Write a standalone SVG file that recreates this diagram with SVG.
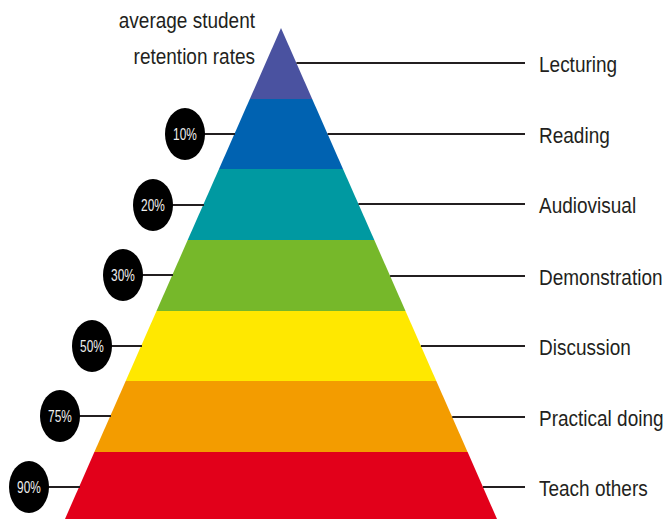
<svg xmlns="http://www.w3.org/2000/svg" width="667" height="519" viewBox="0 0 667 519">
<style>
.lbl{font-family:"Liberation Sans",Arial,sans-serif;font-size:19px;fill:#231f20}
.pct{font-family:"Liberation Sans",Arial,sans-serif;font-size:13.5px;fill:#eeeeee;text-anchor:middle}
.ln{stroke:#231f20;stroke-width:2;fill:none}
.dot{fill:#000}
</style>
<rect width="667" height="519" fill="#fff"/>
<g id="pyramid">
<polygon id="band-lecturing" points="281,28 312.2,99 249.8,99" fill="#4a52a0"/>
<polygon id="band-reading" points="249.8,99 312.2,99 343,169 219,169" fill="#0062b1"/>
<polygon id="band-audiovisual" points="219,169 343,169 374.3,240 187.7,240" fill="#0099a1"/>
<polygon id="band-demonstration" points="187.7,240 374.3,240 405.5,311 156.5,311" fill="#76b82a"/>
<polygon id="band-discussion" points="156.5,311 405.5,311 436.3,381 125.7,381" fill="#ffe800"/>
<polygon id="band-practical" points="125.7,381 436.3,381 467.6,452 94.4,452" fill="#f39c00"/>
<polygon id="band-teach" points="94.4,452 467.6,452 497,519 65,519" fill="#e2001a"/>
</g>
<g id="connectors">
<line class="ln" x1="296.4" y1="63" x2="525" y2="63"/>
<line class="ln" x1="327.6" y1="134" x2="525" y2="134"/>
<line class="ln" x1="358.4" y1="204" x2="525" y2="204"/>
<line class="ln" x1="390.1" y1="276" x2="525" y2="276"/>
<line class="ln" x1="420.9" y1="346" x2="525" y2="346"/>
<line class="ln" x1="452.2" y1="417" x2="525" y2="417"/>
<line class="ln" x1="483" y1="487" x2="525" y2="487"/>
<line class="ln" x1="204" y1="134" x2="235" y2="134"/>
<line class="ln" x1="172" y1="205" x2="204" y2="205"/>
<line class="ln" x1="142" y1="275" x2="173" y2="275"/>
<line class="ln" x1="111" y1="346" x2="142" y2="346"/>
<line class="ln" x1="79" y1="416" x2="111" y2="416"/>
<line class="ln" x1="48" y1="487" x2="80" y2="487"/>
</g>
<g id="title">
<text class="lbl" text-anchor="end" transform="matrix(1,0,0,1.15,255,28)">average student</text>
<text class="lbl" text-anchor="end" transform="matrix(1,0,0,1.15,255,64)">retention rates</text>
</g>
<g id="labels">
<text class="lbl" transform="matrix(1,0,0,1.15,539,71.5)">Lecturing</text>
<text class="lbl" transform="matrix(1,0,0,1.15,539,142.5)">Reading</text>
<text class="lbl" transform="matrix(1,0,0,1.15,539,212.5)">Audiovisual</text>
<text class="lbl" transform="matrix(1,0,0,1.15,539,284.5)">Demonstration</text>
<text class="lbl" transform="matrix(1,0,0,1.15,539,354.5)">Discussion</text>
<text class="lbl" transform="matrix(1,0,0,1.15,539,425.5)">Practical doing</text>
<text class="lbl" transform="matrix(1,0,0,1.15,539,495.5)">Teach others</text>
</g>
<g id="pct-10"><ellipse class="dot" cx="185" cy="134" rx="20" ry="26"/><text class="pct" transform="matrix(0.88,0,0,1.2,185,139.8)">10%</text></g>
<g id="pct-20"><ellipse class="dot" cx="153" cy="205" rx="20" ry="26"/><text class="pct" transform="matrix(0.88,0,0,1.2,153,210.8)">20%</text></g>
<g id="pct-30"><ellipse class="dot" cx="123" cy="275" rx="20" ry="26"/><text class="pct" transform="matrix(0.88,0,0,1.2,123,280.8)">30%</text></g>
<g id="pct-50"><ellipse class="dot" cx="92" cy="346" rx="20" ry="26"/><text class="pct" transform="matrix(0.88,0,0,1.2,92,351.8)">50%</text></g>
<g id="pct-75"><ellipse class="dot" cx="60" cy="416" rx="20" ry="26"/><text class="pct" transform="matrix(0.88,0,0,1.2,60,421.8)">75%</text></g>
<g id="pct-90"><ellipse class="dot" cx="29" cy="487" rx="20" ry="26"/><text class="pct" transform="matrix(0.88,0,0,1.2,29,492.8)">90%</text></g>
</svg>
